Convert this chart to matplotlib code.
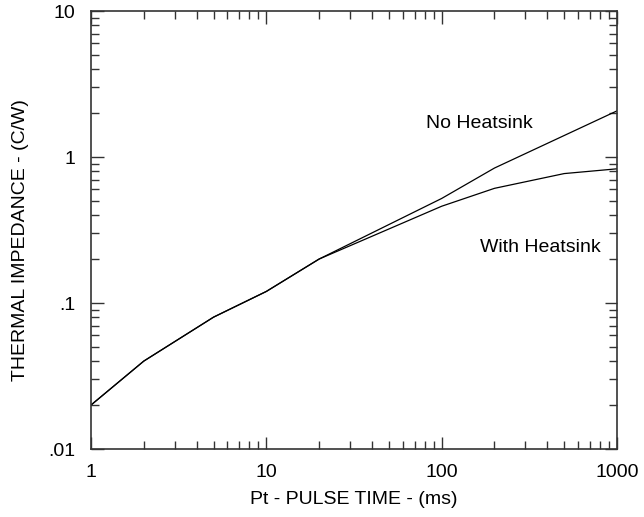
import matplotlib
matplotlib.use('Agg')
import matplotlib.pyplot as plt
from matplotlib.ticker import FixedLocator, FixedFormatter, LogLocator, NullFormatter

plt.rcParams['font.family'] = ['Liberation Sans', 'DejaVu Sans']

# pulse time (ms) and thermal impedance (C/W)
no_hs_time = [1, 2, 5, 10, 20, 100, 200, 1000]
no_hs_imp = [0.02, 0.04, 0.08, 0.12, 0.2, 0.52, 0.84, 2.07]
with_hs_time = [1, 2, 5, 10, 20, 100, 200, 500, 1000]
with_hs_imp = [0.02, 0.04, 0.08, 0.12, 0.2, 0.46, 0.61, 0.77, 0.83]

x_ticks = [1, 10, 100, 1000]
x_labels = ['1', '10', '100', '1000']
y_ticks = [0.01, 0.1, 1, 10]
y_labels = ['.01', '.1', '1', '10']

W, H = 644, 517
fig = plt.figure(figsize=(W / 100, H / 100), dpi=100)
ax = fig.add_axes([91 / W, 1 - 449 / H, (617 - 91) / W, (449 - 11) / H])

ax.plot(no_hs_time, no_hs_imp, color='black', lw=0.9)
ax.plot(with_hs_time, with_hs_imp, color='black', lw=0.9)

ax.set_xscale('log')
ax.set_yscale('log')
ax.set_xlim(1, 1000)
ax.set_ylim(0.01, 10)

ax.xaxis.set_major_locator(FixedLocator(x_ticks))
ax.xaxis.set_major_formatter(FixedFormatter(x_labels))
ax.yaxis.set_major_locator(FixedLocator(y_ticks))
ax.yaxis.set_major_formatter(FixedFormatter(y_labels))
ax.xaxis.set_minor_locator(LogLocator(base=10, subs=range(2, 10)))
ax.yaxis.set_minor_locator(LogLocator(base=10, subs=range(2, 10)))
ax.xaxis.set_minor_formatter(NullFormatter())
ax.yaxis.set_minor_formatter(NullFormatter())

ax.tick_params(which='both', direction='in', top=True, right=True, color='#333333')
ax.tick_params(which='major', length=9, width=1, labelsize=14, pad=11)
ax.tick_params(which='minor', length=6, width=1)
for s in ax.spines.values():
    s.set_linewidth(1.2)
    s.set_color('#333333')

# curve labels, placed in figure pixels
fig.text(479 / W, 1 - 123 / H, 'No Heatsink', fontsize=14, ha='center', va='center')
fig.text(540 / W, 1 - 247 / H, 'With Heatsink', fontsize=14, ha='center', va='center')

fig.text(354 / W, 1 - 500 / H, 'Pt - PULSE TIME - (ms)', fontsize=14, ha='center', va='center')
fig.text(21 / W, 1 - 240 / H, 'THERMAL IMPEDANCE - (C/W)', fontsize=14, ha='center', va='center',
         rotation=90)

fig.savefig('out.png', dpi=100)
